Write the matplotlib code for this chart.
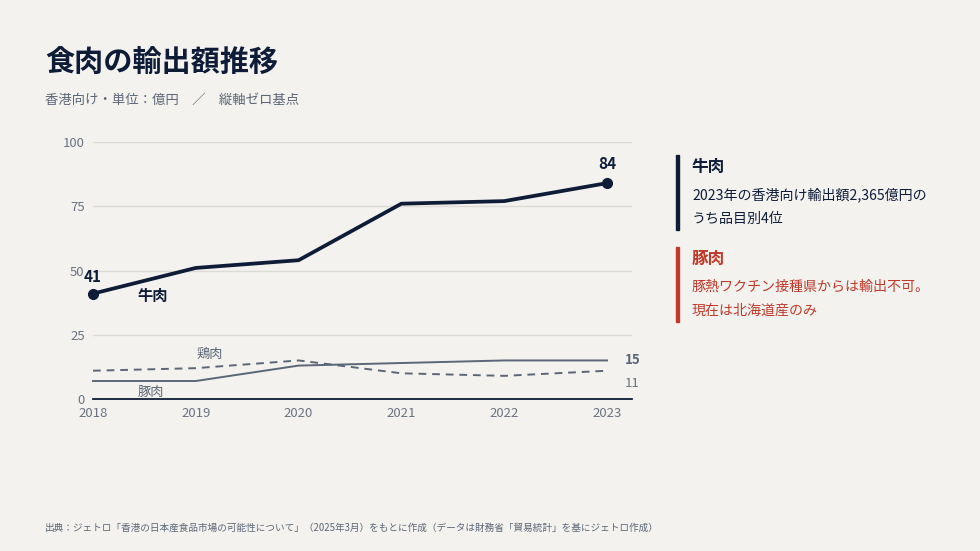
import matplotlib.pyplot as plt
from matplotlib.patches import Rectangle

plt.rcParams['font.family'] = ['Noto Sans CJK JP', 'DejaVu Sans']

years = [2018, 2019, 2020, 2021, 2022, 2023]
beef = [41, 51, 54, 76, 77, 84]
chicken = [11, 12, 15, 10, 9, 11]
pork = [7, 7, 13, 14, 15, 15]
yticks = [0, 25, 50, 75, 100]

BG = '#f4f2ee'
NAVY = '#0f1c38'
GRAY = '#5b6676'
TICK = '#6a7382'
RED = '#c0392b'
GRID = '#dcdad5'

W, H = 980, 551
fig = plt.figure(figsize=(9.8, 5.51), dpi=100, facecolor=BG)

def px(x, y):
    return x / W, 1 - y / H

ax = fig.add_axes([93 / W, 1 - 399 / H, (632 - 93) / W, (399 - 142) / H])
ax.set_facecolor(BG)
ax.set_xlim(2018, 2023 + 25 / (514 / 5))
ax.set_ylim(0, 100)
ax.set_yticks(yticks)
ax.set_xticks(years)
ax.grid(axis='y', color=GRID, lw=1)
ax.set_axisbelow(True)
for s in ['top', 'right', 'left']:
    ax.spines[s].set_visible(False)
ax.spines['bottom'].set_color(NAVY)
ax.spines['bottom'].set_linewidth(1.3)
ax.tick_params(length=0, labelsize=9.5, colors=TICK, pad=6)

ax.plot(years, chicken, color=GRAY, lw=1.4, ls=(0, (4, 3)), clip_on=False)
ax.plot(years, pork, color=GRAY, lw=1.4, clip_on=False)
ax.plot(years, beef, color=NAVY, lw=2.7, clip_on=False, solid_capstyle='round')
ax.plot([years[0], years[-1]], [beef[0], beef[-1]], 'o', color=NAVY, ms=7, clip_on=False)

ax.annotate(str(beef[0]), (years[0], beef[0]), xytext=(0, 6), textcoords='offset points',
            ha='center', va='bottom', fontsize=11, fontweight='bold', color=NAVY)
ax.annotate(str(beef[-1]), (years[-1], beef[-1]), xytext=(0, 8), textcoords='offset points',
            ha='center', va='bottom', fontsize=11, fontweight='bold', color=NAVY)
ax.annotate('牛肉', (years[0], beef[0]), xytext=(32, -2), textcoords='offset points',
            ha='left', va='center', fontsize=11, fontweight='bold', color=NAVY)
ax.annotate('鶏肉', (years[1], chicken[1]), xytext=(10, 10), textcoords='offset points',
            ha='center', va='center', fontsize=9.5, color=GRAY)
ax.annotate('豚肉', (years[0], pork[0]), xytext=(32, -8), textcoords='offset points',
            ha='left', va='center', fontsize=9.5, color=GRAY)
ax.annotate(str(pork[-1]), (years[-1], pork[-1]), xytext=(13, 0), textcoords='offset points',
            ha='left', va='center', fontsize=9.5, fontweight='bold', color=GRAY)
ax.annotate(str(chicken[-1]), (years[-1], chicken[-1]), xytext=(13, -9), textcoords='offset points',
            ha='left', va='center', fontsize=9.5, color=TICK)

fig.text(*px(45, 62), '食肉の輸出額推移', fontsize=21, fontweight='bold', color=NAVY, va='center')
fig.text(*px(45, 100), '香港向け・単位：億円　／　縦軸ゼロ基点', fontsize=9.6, color=GRAY, va='center')
fig.text(*px(45, 528), '出典：ジェトロ「香港の日本産食品市場の可能性について」（2025年3月）をもとに作成（データは財務省「貿易統計」を基にジェトロ作成）',
         fontsize=6.95, color=GRAY, va='center')

# right side notes
fig.add_artist(Rectangle(px(676, 230), 3 / W, 75 / H, color=NAVY, transform=fig.transFigure))
fig.text(*px(692, 167), '牛肉', fontsize=12, fontweight='bold', color=NAVY, va='center')
fig.text(*px(692, 195), '2023年の香港向け輸出額2,365億円の', fontsize=10.1, color=NAVY, va='center')
fig.text(*px(692, 219), 'うち品目別4位', fontsize=10.1, color=NAVY, va='center')

fig.add_artist(Rectangle(px(676, 322), 3 / W, 75 / H, color=RED, transform=fig.transFigure))
fig.text(*px(692, 259), '豚肉', fontsize=12, fontweight='bold', color=RED, va='center')
fig.text(*px(692, 287), '豚熱ワクチン接種県からは輸出不可。', fontsize=10.1, color=RED, va='center')
fig.text(*px(692, 311), '現在は北海道産のみ', fontsize=10.1, color=RED, va='center')

fig.savefig('out.png', dpi=100, facecolor=BG)
